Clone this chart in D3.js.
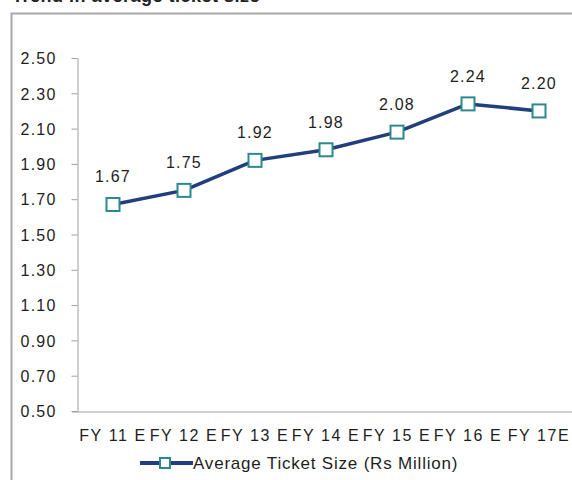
<!DOCTYPE html>
<html>
<head>
<meta charset="utf-8">
<script src="https://cdn.jsdelivr.net/npm/d3@7"></script>
<style>
  html, body { margin: 0; padding: 0; background: #fff; }
  svg { display: block; font-family: Arial, "Liberation Sans", sans-serif; }
</style>
</head>
<body>
<svg id="chart" width="572" height="480"></svg>
<script>
// Average ticket size by financial year
const categories = ["FY 11 E", "FY 12 E", "FY 13 E", "FY 14 E", "FY 15 E", "FY 16 E", "FY 17E"];
const ticketSize = [1.67, 1.75, 1.92, 1.98, 2.08, 2.24, 2.20];
const yTicks = [0.50, 0.70, 0.90, 1.10, 1.30, 1.50, 1.70, 1.90, 2.10, 2.30, 2.50];
const seriesName = "Average Ticket Size (Rs Million)";
const title = "Trend in average ticket size";

const font = "Arial, 'Liberation Sans', sans-serif";
const textColor = "#1e1e1e";
const svg = d3.select("#chart");

// Title (sits partly above the frame)
svg.append("text")
  .attr("x", 12).attr("y", 2)
  .attr("font-size", 18).attr("font-weight", "bold")
  .attr("letter-spacing", 0.5)
  .attr("fill", "#222")
  .text(title);

// Frame
svg.append("path")
  .attr("d", "M11.5,490 V13.5 H580")
  .attr("fill", "none").attr("stroke", "#a8a8a8").attr("stroke-width", 2);

const x = d3.scaleBand().domain(categories).range([77.5, 574.5]);
const y = d3.scaleLinear().domain([0.5, 2.5]).range([411, 58]);

// Y axis
const yAxis = svg.append("g")
  .attr("transform", "translate(77.5,0)")
  .call(d3.axisLeft(y).tickValues(yTicks).tickFormat(d3.format(".2f")).tickSize(6).tickSizeOuter(0));
yAxis.select(".domain").attr("stroke", "#a0a0a0");
yAxis.selectAll(".tick line").attr("stroke", "#a0a0a0");
yAxis.selectAll(".tick text")
  .attr("x", -21).attr("dy", "0.36em")
  .attr("font-size", 16).attr("letter-spacing", 1.2)
  .attr("fill", textColor).attr("font-family", font);

// X axis
const xAxis = svg.append("g")
  .attr("transform", "translate(0,411.5)")
  .call(d3.axisBottom(x).tickSize(0).tickSizeOuter(0));
xAxis.select(".domain").attr("stroke", "#a0a0a0").attr("d", "M72,0.5H572");
xAxis.selectAll(".tick text")
  .attr("y", 29).attr("dy", 0)
  .attr("font-size", 16).attr("letter-spacing", 1.6)
  .attr("fill", textColor).attr("font-family", font);

const lineColor = "#213f7d";
const markerColor = "#2b8a8c";

// Series line
const line = d3.line()
  .x((d, i) => x(categories[i]) + x.bandwidth() / 2)
  .y(d => y(d));

svg.append("path")
  .datum(ticketSize)
  .attr("d", line)
  .attr("fill", "none")
  .attr("stroke", lineColor)
  .attr("stroke-width", 3.5)
  .attr("stroke-linejoin", "round");

// Square markers
const ms = 13;
svg.selectAll("rect.marker")
  .data(ticketSize)
  .join("rect")
  .attr("class", "marker")
  .attr("x", (d, i) => x(categories[i]) + x.bandwidth() / 2 - ms / 2)
  .attr("y", d => y(d) - ms / 2)
  .attr("width", ms).attr("height", ms)
  .attr("fill", "#fff")
  .attr("stroke", markerColor)
  .attr("stroke-width", 2);

// Value labels
svg.selectAll("text.value")
  .data(ticketSize)
  .join("text")
  .attr("class", "value")
  .attr("x", (d, i) => x(categories[i]) + x.bandwidth() / 2)
  .attr("y", d => y(d) - 22)
  .attr("text-anchor", "middle")
  .attr("font-size", 16).attr("letter-spacing", 1.2)
  .attr("fill", textColor)
  .text(d => d3.format(".2f")(d));

// Legend
const lg = svg.append("g").attr("transform", "translate(140,463)");
lg.append("line")
  .attr("x1", 0).attr("x2", 53).attr("y1", 0).attr("y2", 0)
  .attr("stroke", lineColor).attr("stroke-width", 4);
lg.append("rect")
  .attr("x", 20).attr("y", -5).attr("width", 10).attr("height", 10)
  .attr("fill", "#fff").attr("stroke", markerColor).attr("stroke-width", 2);
lg.append("text")
  .attr("x", 53).attr("y", 6)
  .attr("font-size", 17).attr("letter-spacing", 0.8)
  .attr("fill", textColor)
  .text(seriesName);
</script>
</body>
</html>
